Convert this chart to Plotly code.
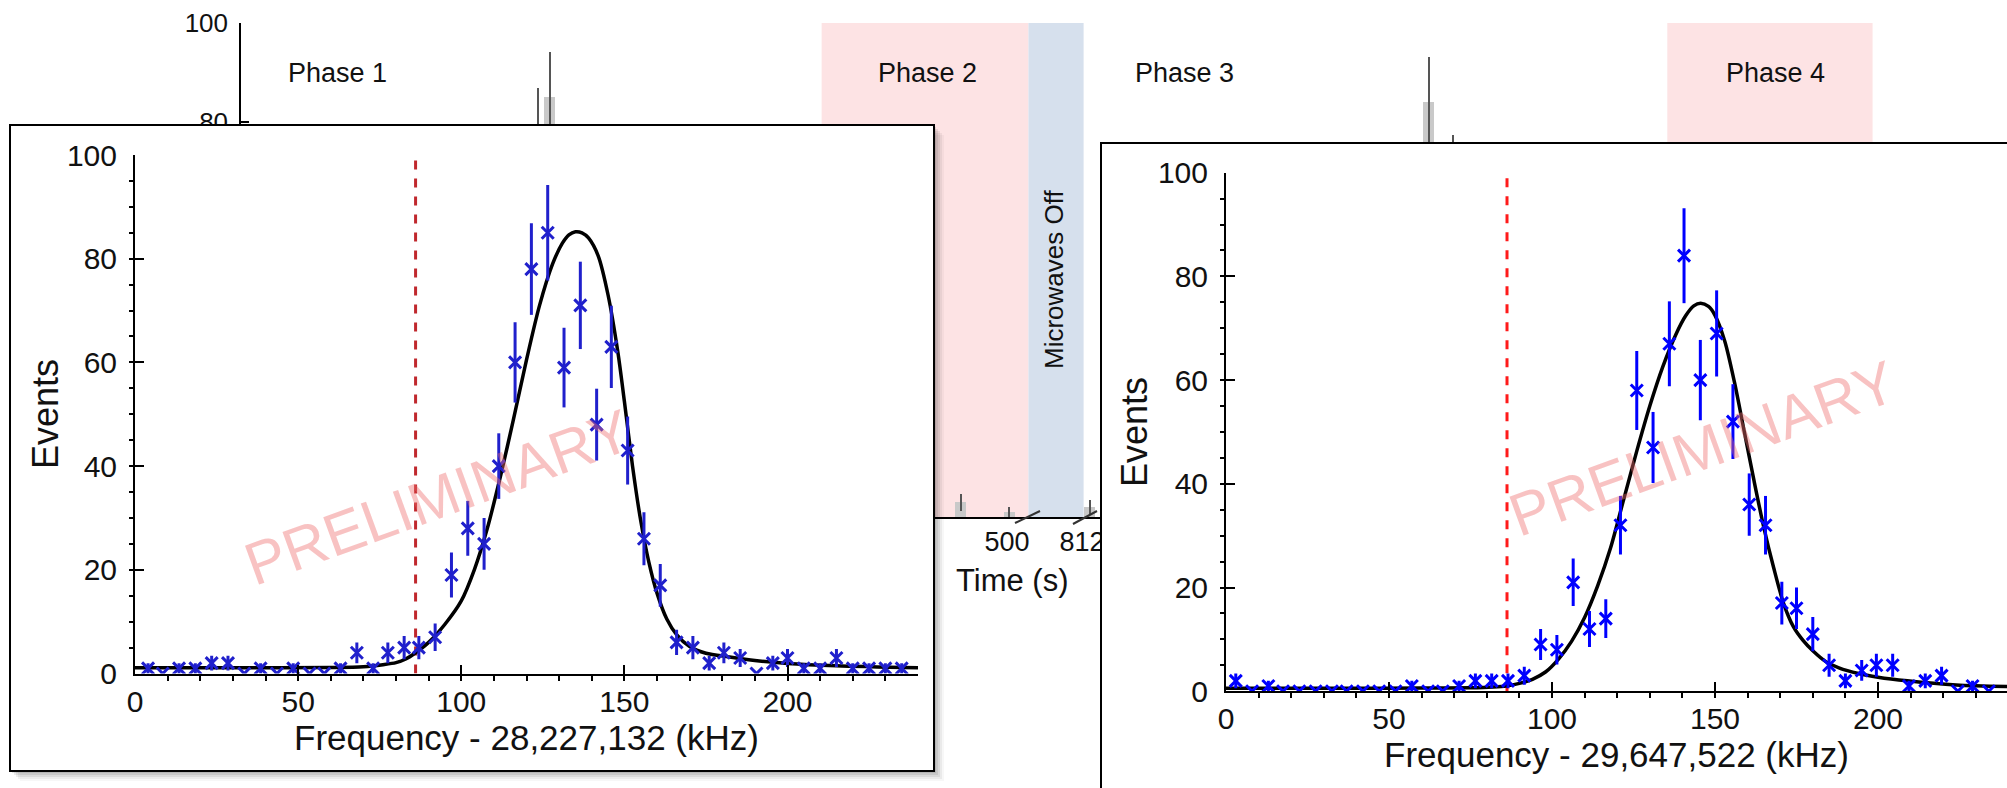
import numpy as np
import plotly.graph_objects as go

W, H = 2007, 788
FONT = "Arial, Liberation Sans, sans-serif"

# ---------------- data: left inset (Phase 1 scan) ----------------
freq1_khz = [4, 8.5, 13.5, 18.5, 23.5, 28.5, 33.5, 38.5, 43.5, 48.5,
             53.5, 58, 63, 68, 73, 77.5, 82.5, 87, 92, 97,
             102, 107, 111.5, 116.5, 121.5, 126.5, 131.5, 136.5, 141.5, 146,
             151, 156, 161, 166, 171, 176, 180.5, 185.5, 190.5, 195.5,
             200, 205, 210, 215, 220, 225, 230, 235]
events1 = [1, 0, 1, 1, 2, 2, 0, 1, 0, 1,
           0, 0, 1, 4, 1, 4, 5, 5, 7, 19,
           28, 25, 40, 60, 78, 85, 59, 71, 48, 63,
           43, 26, 17, 6, 5, 2, 4, 3, 0, 2,
           3, 1, 1, 3, 1, 1, 1, 1]
fit1_khz = [0, 30, 60, 70, 76, 80, 83, 86, 90, 95, 100, 104, 108, 112, 116, 120, 124, 128,
            131, 133, 135, 137, 139, 142, 145, 148, 150, 152.5, 155, 157.5, 160, 163, 166,
            170, 175, 182, 190, 200, 215, 240]
fit1_events = [1.1, 1.1, 1.15, 1.3, 1.7, 2.1, 2.8, 4.0, 6.0, 9.5, 14.0, 20.0, 28.0, 38.0, 49.0,
               60.5, 71.0, 79.0, 83.0, 84.6, 85.2, 85.0, 84.0, 80.5, 73.0, 62.0, 52.5, 40.0,
               29.5, 21.5, 15.5, 10.5, 7.5, 5.2, 3.9, 3.2, 2.5, 1.95, 1.5, 1.1]
marker1_khz = 86.0
offset1_label = "Frequency - 28,227,132 (kHz)"

# ---------------- data: right inset (Phase 3 scan) ----------------
freq2_khz = [3, 8, 13, 17.5, 22.5, 27.5, 32.5, 37, 42, 47,
             52, 57, 62, 66.5, 71.5, 76.5, 81.5, 86.5, 91.5, 96.5,
             101.5, 106.5, 111.5, 116.5, 121, 126, 131, 136, 140.5, 145.5,
             150.5, 155.5, 160.5, 165.5, 170.5, 175, 180, 185, 190, 195,
             199.5, 204.5, 209.5, 214.5, 219.5, 224.5, 229, 234]
events2 = [2, 0, 1, 0, 0, 0, 0, 0, 0, 0,
           0, 1, 0, 0, 1, 2, 2, 2, 3, 9,
           8, 21, 12, 14, 32, 58, 47, 67, 84, 60,
           69, 52, 36, 32, 17, 16, 11, 5, 2, 4,
           5, 5, 1, 2, 3, 0, 1, 0]
fit2_khz = [0, 40, 60, 75, 82, 86, 90, 94, 98, 102, 106, 110, 114, 118, 122, 126, 130, 134,
            138, 141, 143.5, 145.6, 148, 150, 153, 156, 159, 162, 165, 168, 171, 174, 177,
            180, 184, 188, 194, 200, 209, 224, 240]
fit2_events = [0.55, 0.55, 0.6, 0.65, 0.8, 1.0, 1.5, 2.3, 3.7, 6.2, 9.6, 14.2, 20.3, 27.7,
               37.0, 46.3, 55.0, 62.6, 68.8, 72.4, 74.3, 74.8, 74.2, 72.5, 67.5, 59.5, 50.0,
               40.5, 31.5, 23.8, 17.0, 12.5, 9.8, 7.8, 5.7, 4.5, 3.4, 2.7, 2.0, 1.2, 0.9]
marker2_khz = 86.2
offset2_label = "Frequency - 29,647,522 (kHz)"

# ---------------- data: background time histogram ----------------
bin_seconds = 7.9
phase1_start_s = 0.0
phase2_start_s = 379.0
phase3_start_s = 550.0
phase2_bins = [9, 10, 11, 12, 13, 14, 15, 16]
phase2_events = [0, 0, 3, 0, 0, 0, 1, 0]
time_tick_vals = [500, 549]
time_tick_text = ["500", "812"]
band_phase2_s = [379, 514]
band_off_s = [514, 550]
band_phase4_s = [931, 1065]
phase_labels = ["Phase 1", "Phase 2", "Phase 3", "Phase 4"]

# ---------------- helpers ----------------
def px(p):
    return p / W


def py(p):
    return 1 - p / H


t1 = [phase1_start_s + bin_seconds * (i + 0.5) for i in range(len(events1))]
t2 = [phase2_start_s + bin_seconds * (k + 0.5) for k in phase2_bins]
t3 = [phase3_start_s + bin_seconds * (i + 0.5) for i in range(len(events2))]

fig = go.Figure()

# background histogram (subplot xy)
for tx, ev in ((t1, events1), (t2, phase2_events), (t3, events2)):
    fig.add_trace(go.Bar(
        x=tx, y=ev, width=7, marker=dict(color="#c9c9c9", line=dict(width=0)),
        error_y=dict(type="data", array=np.sqrt(ev), color="#555555", thickness=2, width=0),
        xaxis="x", yaxis="y", showlegend=False, hoverinfo="skip"))

# overlay pixel subplot for the inset frames (x2y2)
fig.add_trace(go.Scatter(x=[], y=[], xaxis="x2", yaxis="y2", showlegend=False, hoverinfo="skip"))


def add_inset(xa, ya, freq, ev, fx, fv, mk, color, dash_color):
    fig.add_trace(go.Scatter(
        x=[mk, mk], y=[0, 99.5], mode="lines", xaxis=xa, yaxis=ya,
        line=dict(color=dash_color, width=3, dash="dash"), showlegend=False, hoverinfo="skip"))
    fig.add_trace(go.Scatter(
        x=fx, y=fv, mode="lines", xaxis=xa, yaxis=ya,
        line=dict(color="black", width=3.5, shape="spline", smoothing=0.8),
        showlegend=False, hoverinfo="skip"))
    fig.add_trace(go.Scatter(
        x=freq, y=ev, mode="markers", xaxis=xa, yaxis=ya,
        marker=dict(symbol="x-thin", size=12, color=color, line=dict(width=3, color=color)),
        error_y=dict(type="data", array=np.sqrt(ev), color=color, thickness=3, width=0),
        showlegend=False, hoverinfo="skip"))


add_inset("x3", "y3", freq1_khz, events1, fit1_khz, fit1_events, marker1_khz, "#2020cc", "#c0282d")
add_inset("x4", "y4", freq2_khz, events2, fit2_khz, fit2_events, marker2_khz, "#0000ff", "#ff1a1a")

tickfont = dict(family=FONT, size=30, color="#111111")


def inset_x(domain, rng, anchor):
    return dict(domain=domain, range=rng, anchor=anchor, showline=True, linecolor="black",
                linewidth=2, ticks="inside", ticklen=9, tickwidth=2, tickcolor="black",
                tick0=0, dtick=50, tickfont=tickfont, showgrid=False, zeroline=False,
                ticklabelstandoff=0, automargin=False,
                minor=dict(dtick=10, tick0=0, ticks="outside", ticklen=5, tickwidth=1.5,
                           tickcolor="black"))


def inset_y(domain, anchor):
    return dict(domain=domain, range=[0, 100], anchor=anchor, showline=True, linecolor="black",
                linewidth=2, ticks="inside", ticklen=9, tickwidth=2, tickcolor="black",
                tick0=0, dtick=20, tickfont=tickfont, showgrid=False, zeroline=False,
                ticklabelstandoff=10, automargin=False,
                minor=dict(dtick=5, tick0=0, ticks="outside", ticklen=4, tickwidth=1.5,
                           tickcolor="black"))


BG_X0 = 241
BG_PX_PER_S = 1.532

layout = dict(
    template="none",
    width=W, height=H, margin=dict(l=0, r=0, t=0, b=0, pad=0, autoexpand=False),
    paper_bgcolor="white", plot_bgcolor="rgba(0,0,0,0)",
    showlegend=False, hovermode=False, bargap=0,
    font=dict(family=FONT, color="#111111"),
    xaxis=dict(domain=[px(BG_X0), 1], range=[0, (W - BG_X0) / BG_PX_PER_S], anchor="y",
               showline=True, linecolor="black", linewidth=1.5, ticks="",
               tickvals=time_tick_vals, ticktext=time_tick_text,
               tickfont=dict(family=FONT, size=27, color="#111111"),
               showgrid=False, zeroline=False, ticklabelstandoff=0, automargin=False),
    yaxis=dict(domain=[py(517), py(23)], range=[0, 100], anchor="x",
               showline=True, linecolor="black", linewidth=1.5, ticks="inside", ticklen=8,
               tickwidth=1.5, tickcolor="black", dtick=20,
               tickfont=dict(family=FONT, size=26, color="#111111"),
               showgrid=False, zeroline=False, ticklabelstandoff=6, automargin=False),
    xaxis2=dict(domain=[0, 1], range=[0, W], anchor="y2", visible=False, automargin=False),
    yaxis2=dict(domain=[0, 1], range=[H, 0], anchor="x2", visible=False, automargin=False),
    xaxis3=inset_x([px(135), px(918)], [0, 240], "y3"),
    yaxis3=inset_y([py(673.5), py(155)], "x3"),
    xaxis4=inset_x([px(1226), 1], [0, (W - 1226) / 3.26], "y4"),
    yaxis4=inset_y([py(691.2), py(172.7)], "x4"),
)
fig.update_layout(**layout)

shapes = []
# phase bands in background axes
for b in (band_phase2_s, band_phase4_s):
    shapes.append(dict(type="rect", xref="x", yref="y", x0=b[0], x1=b[1], y0=0, y1=100,
                       fillcolor="#fde3e4", line=dict(width=0), layer="below"))
shapes.append(dict(type="rect", xref="x", yref="y", x0=band_off_s[0], x1=band_off_s[1],
                   y0=0, y1=100, fillcolor="#d6e0ed", line=dict(width=0), layer="above"))
# inset frames (pixel overlay subplot)
for d, a in ((2, 0.10), (4, 0.08), (6, 0.07), (8, 0.05), (10, 0.03)):
    shapes.append(dict(type="rect", xref="x2", yref="y2", x0=10 + d, x1=934 + d,
                       y0=125 + d, y1=771 + d, fillcolor=f"rgba(0,0,0,{a})",
                       line=dict(width=0), layer="below"))
shapes.append(dict(type="rect", xref="x2", yref="y2", x0=10, x1=934, y0=125, y1=771,
                   fillcolor="white", line=dict(color="black", width=2), layer="below"))
shapes.append(dict(type="rect", xref="x2", yref="y2", x0=1101, x1=2040, y0=143, y1=830,
                   fillcolor="white", line=dict(color="black", width=2), layer="below"))
# axis break marks
for (x0, y0, x1, y1) in ((1015, 523, 1040, 511), (1073, 524, 1097, 511)):
    shapes.append(dict(type="line", xref="x2", yref="y2", x0=x0, y0=y0, x1=x1, y1=y1,
                       line=dict(color="#333333", width=2), layer="above"))
fig.update_layout(shapes=shapes)

ann = []


def text(x, y, s, size, angle=0, color="#111111"):
    ann.append(dict(x=px(x), y=py(y), xref="paper", yref="paper", text=s, showarrow=False,
                    xanchor="center", yanchor="middle", textangle=angle,
                    font=dict(family=FONT, size=size, color=color)))


for lab, xc in zip(phase_labels, [337, 927, 1184, 1775]):
    text(xc, 73, lab, 27)
text(1054, 280, "Microwaves Off", 26, angle=-90)
text(1012, 580, "Time (s)", 31)
text(45, 414, "Events", 36, angle=-90)
text(526, 737, offset1_label, 35)
text(1134, 432, "Events", 36, angle=-90)
text(1616, 754, offset2_label, 35)
text(438, 497, "PRELIMINARY", 60, angle=-20, color="rgba(238,110,110,0.42)")
text(1703, 449, "PRELIMINARY", 60, angle=-20, color="rgba(238,110,110,0.42)")
fig.update_layout(annotations=ann)

fig.write_html("out.html")
